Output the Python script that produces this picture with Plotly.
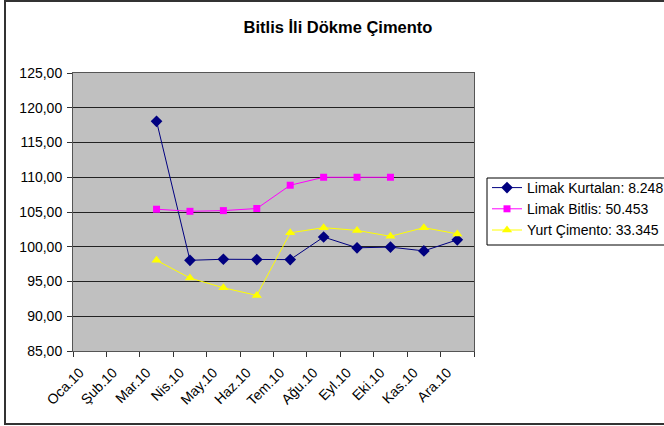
import plotly.graph_objects as go

months = ["Oca.10", "Şub.10", "Mar.10", "Nis.10", "May.10", "Haz.10",
          "Tem.10", "Ağu.10", "Eyl.10", "Eki.10", "Kas.10", "Ara.10"]

kurtalan = [None, None, 118.05, 98.05, 98.2, 98.15, 98.15, 101.4, 99.85, 99.95, 99.4, 101.0]
bitlis = [None, None, 105.4, 105.1, 105.2, 105.5, 108.85, 110.0, 110.0, 110.0, None, None]
yurt = [None, None, 98.05, 95.5, 94.1, 93.0, 102.0, 102.75, 102.35, 101.5, 102.75, 101.85]

W, H = 664, 426
ml, mr, mt, mb = 73, 190, 73, 75
pw, ph = W - ml - mr, H - mt - mb


# pixel -> paper coords (relative to plot area)
def px(x):
    return (x - ml) / pw


def py(y):
    return (H - mb - y) / ph


fig = go.Figure()
fig.add_trace(go.Scatter(x=months, y=kurtalan, mode='lines+markers', name='Limak Kurtalan: 8.248',
                         line=dict(color='#000080', width=1),
                         marker=dict(symbol='diamond', size=9, color='#000080')))
fig.add_trace(go.Scatter(x=months, y=bitlis, mode='lines+markers', name='Limak Bitlis: 50.453',
                         line=dict(color='#FF00FF', width=1),
                         marker=dict(symbol='square', size=7, color='#FF00FF')))
fig.add_trace(go.Scatter(x=months, y=yurt, mode='lines+markers', name='Yurt Çimento: 33.345',
                         line=dict(color='#FFFF00', width=1),
                         marker=dict(symbol='triangle-up', size=9, color='#FFFF00')))

fig.update_layout(
    width=W, height=H,
    margin=dict(l=ml, r=mr, t=mt, b=mb, autoexpand=False),
    paper_bgcolor='white',
    plot_bgcolor='#C0C0C0',
    separators=',.',
    font=dict(family='Liberation Sans, Arial', size=14, color='black'),
    title=dict(text='<b>Bitlis İli Dökme Çimento</b>', x=338 / W, xanchor='center',
               y=1 - 27 / H, yanchor='middle', font=dict(size=16.5)),
    showlegend=True,
    legend=dict(x=px(487), y=py(172), xanchor='left', yanchor='top',
                borderwidth=0, bgcolor='rgba(0,0,0,0)',
                font=dict(size=14), tracegroupgap=0, itemwidth=30),
)
fig.update_xaxes(type='category', range=[-0.5, 11.5], tickson='boundaries', ticks='outside',
                 ticklen=5, tickcolor='#333', tickangle=-45, showgrid=False,
                 ticklabelstandoff=7, ticklabelshift=-10,
                 showline=True, linecolor='#555', linewidth=1, mirror=True,
                 automargin=False, tickfont=dict(size=14))
fig.update_yaxes(range=[85, 125], dtick=5, tickformat='.2f', ticks='outside', ticklen=5,
                 tickcolor='#333', showgrid=True, gridcolor='#222', gridwidth=1,
                 ticklabelstandoff=2,
                 showline=True, linecolor='#555', linewidth=1, mirror=True,
                 zeroline=False, automargin=False, tickfont=dict(size=14))

# outer chart border
fig.add_shape(type='rect', xref='paper', yref='paper',
              x0=px(5), x1=px(680), y0=py(424), y1=py(1),
              line=dict(color='#333', width=2), fillcolor='rgba(0,0,0,0)', layer='below')
# legend box
fig.add_shape(type='rect', xref='paper', yref='paper',
              x0=px(487), x1=px(680), y0=py(245), y1=py(178),
              line=dict(color='black', width=1), fillcolor='white', layer='below')

# drop the browser's default body margin so the figure sits at the window corner
fig.write_html("out.html", config={'displayModeBar': False},
               post_script="document.body.style.margin='0';")
